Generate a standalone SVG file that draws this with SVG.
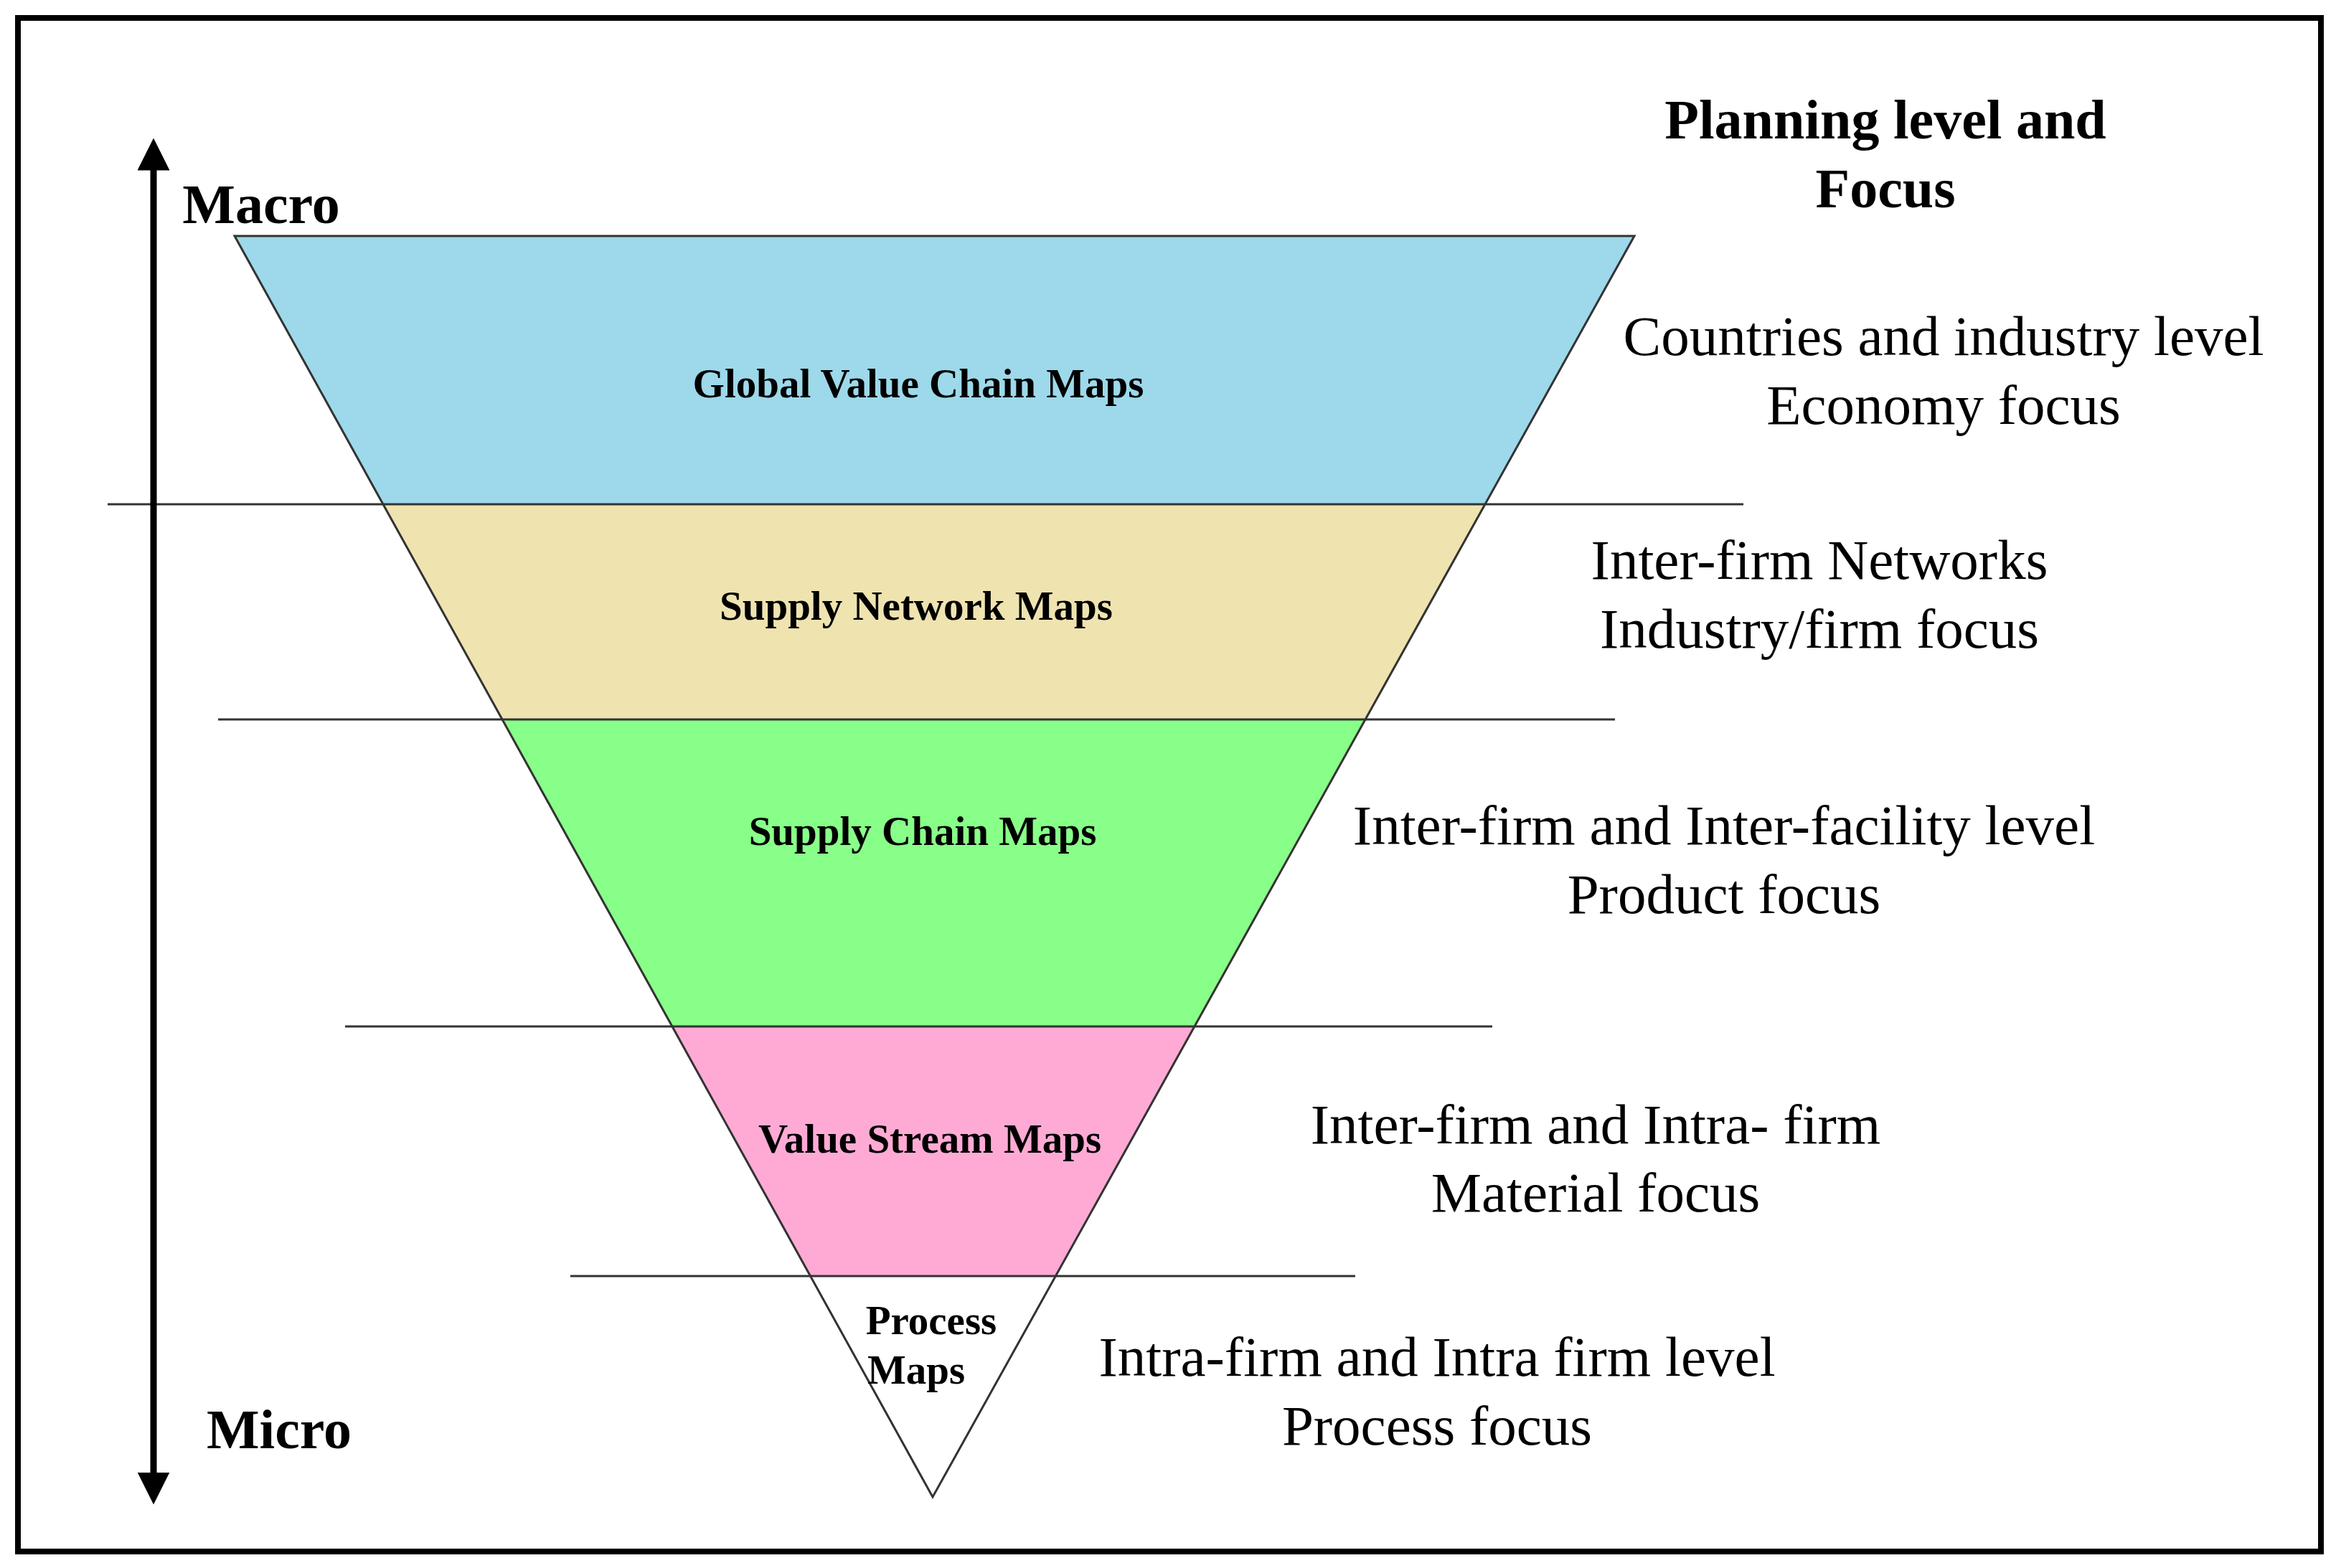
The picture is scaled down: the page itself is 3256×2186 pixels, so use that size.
<svg xmlns="http://www.w3.org/2000/svg" width="3256" height="2186" viewBox="0 0 3256 2186">
<defs>
<style>
.b{font-family:"Liberation Serif",serif;font-weight:bold;fill:#000;text-anchor:middle}
.r{font-family:"Liberation Serif",serif;font-size:79px;fill:#000;text-anchor:middle}
.l{font-size:57px}
.e{stroke:#333;stroke-width:3;fill:none}
</style>
<marker id="ah" viewBox="0 0 10 10" refX="5" refY="5" markerWidth="5" markerHeight="5" orient="auto-start-reverse"><path d="M0,0L10,5L0,10z" fill="#000"/></marker>
</defs>
<rect x="25" y="25" width="3210" height="2138" fill="#fff" stroke="#000" stroke-width="8"/>
<g id="layers">
<polygon id="global" points="327,329 2278,329 2070,703 534,703" fill="#9dd9ea"/>
<polygon id="network" points="534,703 2070,703 1903,1003 700,1003" fill="#efe3b0"/>
<polygon id="chain" points="700,1003 1903,1003 1665,1431 937,1431" fill="#88ff88"/>
<polygon id="stream" points="937,1431 1665,1431 1471,1779 1130,1779" fill="#ffaad5"/>
<polygon points="327,329 2278,329 1300,2087" class="e"/>
</g>
<g id="connectors" stroke="#333" stroke-width="3">
<line x1="150" y1="703" x2="2430" y2="703"/>
<line x1="304" y1="1003" x2="2251" y2="1003"/>
<line x1="481" y1="1431" x2="2080" y2="1431"/>
<line x1="795" y1="1779" x2="1889" y2="1779"/>
<line x1="214" y1="215" x2="214" y2="2075" stroke="#000" stroke-width="9" marker-start="url(#ah)" marker-end="url(#ah)"/>
</g>
<g id="labels">
<text class="b l" x="1280" y="554">Global Value Chain Maps</text>
<text class="b l" x="1277" y="864">Supply Network Maps</text>
<text class="b l" x="1286" y="1178">Supply Chain Maps</text>
<text class="b l" x="1296" y="1607">Value Stream Maps</text>
<text class="b l" x="1298" y="1860">Process</text>
<text class="b l" x="1277" y="1929">Maps</text>
<text class="b" font-size="78" x="364" y="311">Macro</text>
<text class="b" font-size="78" x="389" y="2019">Micro</text>
<text class="b" font-size="78" x="2628" y="193">Planning level and</text>
<text class="b" font-size="78" x="2628" y="289">Focus</text>
<text class="r" x="2709" y="495">Countries and industry level</text>
<text class="r" x="2709" y="591">Economy focus</text>
<text class="r" x="2536" y="807">Inter-firm Networks</text>
<text class="r" x="2536" y="903">Industry/firm focus</text>
<text class="r" x="2403" y="1177">Inter-firm and Inter-facility level</text>
<text class="r" x="2403" y="1273">Product focus</text>
<text class="r" x="2224" y="1594">Inter-firm and Intra- firm</text>
<text class="r" x="2224" y="1689">Material focus</text>
<text class="r" x="2003" y="1918">Intra-firm and Intra firm level</text>
<text class="r" x="2003" y="2014">Process focus</text>
</g>
</svg>
